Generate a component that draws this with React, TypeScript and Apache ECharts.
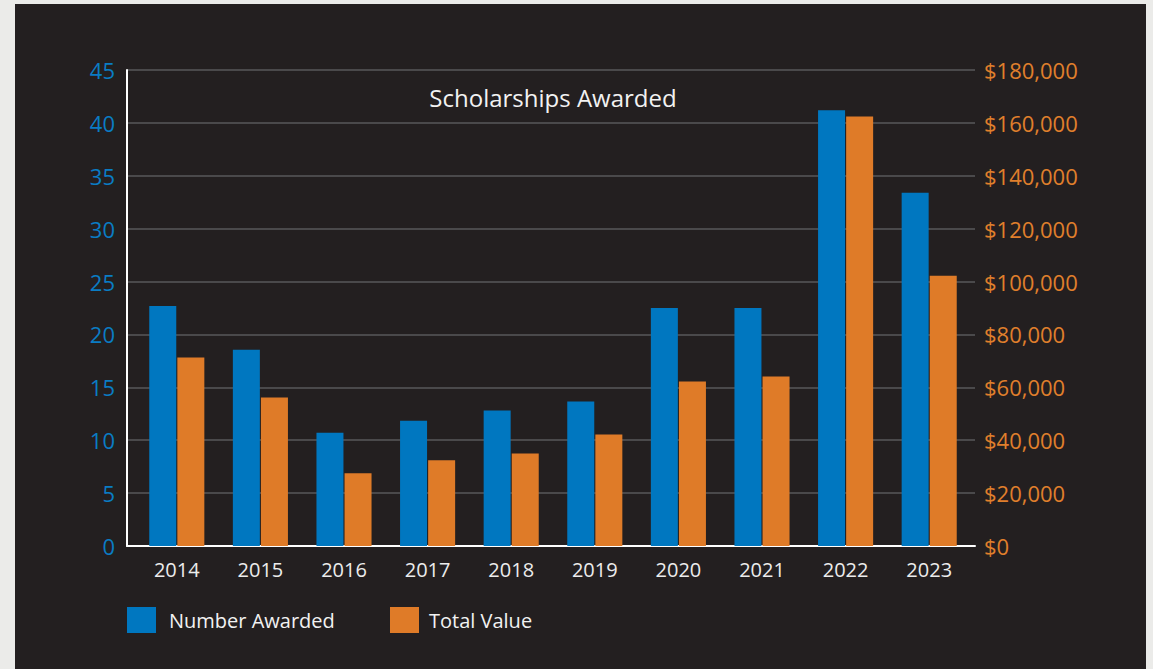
import React, { useEffect, useRef } from "react";
import * as echarts from "echarts";

const years = ["2014", "2015", "2016", "2017", "2018", "2019", "2020", "2021", "2022", "2023"];
const numberAwarded = [22.7, 18.55, 10.7, 11.85, 12.8, 13.65, 22.5, 22.5, 41.2, 33.4];
const totalValue = [71300, 56200, 27500, 32400, 35000, 42200, 62200, 64100, 162400, 102200];
const leftTicks = { min: 0, max: 45, interval: 5 };
const rightTicks = { min: 0, max: 180000, interval: 20000 };
const titleText = "Scholarships Awarded";
const seriesNames = ["Number Awarded", "Total Value"];

const BLUE = "#0077c0";
const ORANGE = "#df7b28";
const FONT = "Open Sans";

export default function App() {
  const ref = useRef<HTMLDivElement>(null);
  useEffect(() => {
    if (!ref.current) return;
    const chart = echarts.init(ref.current, undefined, { renderer: "svg" });
    const fmtMoney = (v: number) => "$" + v.toLocaleString("en-US");
    chart.setOption({
      animation: false,
      backgroundColor: "#ebebe9",
      textStyle: { fontFamily: FONT },
      graphic: [
        {
          type: "rect",
          z: -10,
          shape: { x: 15, y: 4, width: 1131, height: 670 },
          style: { fill: "#231f20" },
          silent: true,
        },
        {
          type: "text",
          z: 10,
          x: 553,
          y: 97,
          style: {
            text: titleText,
            fill: "#f2f2f2",
            font: `24px "${FONT}"`,
            textAlign: "center",
            textVerticalAlign: "middle",
          },
        },
      ],
      legend: [
        {
          left: 127,
          top: 607,
          padding: 0,
          itemWidth: 29,
          itemHeight: 26,
          icon: "rect",
          data: [seriesNames[0]],
          selectedMode: false,
          textStyle: { color: "#f2f2f2", fontSize: 20, fontFamily: FONT, padding: [0, 0, 0, 8] },
        },
        {
          left: 390,
          top: 607,
          padding: 0,
          itemWidth: 29,
          itemHeight: 26,
          icon: "rect",
          data: [seriesNames[1]],
          selectedMode: false,
          textStyle: { color: "#f2f2f2", fontSize: 20, fontFamily: FONT, padding: [0, 0, 0, 5] },
        },
      ],
      grid: [
        { left: 127, top: 70, width: 848, height: 476, containLabel: false },
        { left: 135, top: 70, width: 836, height: 476, containLabel: false },
      ],
      xAxis: [
        {
          gridIndex: 0,
          type: "value",
          min: 0,
          max: 1,
          axisLine: { show: true, onZero: false, lineStyle: { color: "#ffffff", width: 2 } },
          axisTick: { show: false },
          axisLabel: { show: false },
          splitLine: { show: false },
        },
        {
          gridIndex: 1,
          type: "category",
          data: years,
          axisLine: { show: false },
          axisTick: { show: false },
          axisLabel: { color: "#ececec", fontSize: 20, fontFamily: FONT, margin: 13 },
          splitLine: { show: false },
        },
      ],
      yAxis: [
        {
          gridIndex: 0,
          type: "value",
          position: "left",
          ...leftTicks,
          axisLine: { show: true, lineStyle: { color: "#ffffff", width: 2 } },
          axisTick: { show: false },
          axisLabel: { color: "#0a7cc4", fontSize: 22, fontFamily: FONT, margin: 12 },
          splitLine: { show: true, lineStyle: { color: "#58585a", width: 1.5 } },
        },
        {
          gridIndex: 0,
          type: "value",
          position: "right",
          ...rightTicks,
          axisLine: { show: false },
          axisTick: { show: false },
          axisLabel: { color: "#e07f2c", fontSize: 22, fontFamily: FONT, margin: 9, formatter: fmtMoney },
          splitLine: { show: false },
        },
        {
          gridIndex: 1,
          type: "value",
          ...leftTicks,
          show: false,
          splitLine: { show: false },
        },
        {
          gridIndex: 1,
          type: "value",
          ...rightTicks,
          show: false,
          splitLine: { show: false },
        },
      ],
      series: [
        {
          name: seriesNames[0],
          type: "bar",
          xAxisIndex: 1,
          yAxisIndex: 2,
          data: numberAwarded,
          barWidth: 27,
          barGap: "4%",
          itemStyle: { color: BLUE },
          z: 5,
        },
        {
          name: seriesNames[1],
          type: "bar",
          xAxisIndex: 1,
          yAxisIndex: 3,
          data: totalValue,
          barWidth: 27,
          barGap: "4%",
          itemStyle: { color: ORANGE },
          z: 5,
        },
      ],
    });
    return () => chart.dispose();
  }, []);
  return (
    <div style={{ position: "fixed", left: 0, top: 0, width: 1153, height: 669 }}>
      <div ref={ref} style={{ width: 1153, height: 669 }} />
    </div>
  );
}
